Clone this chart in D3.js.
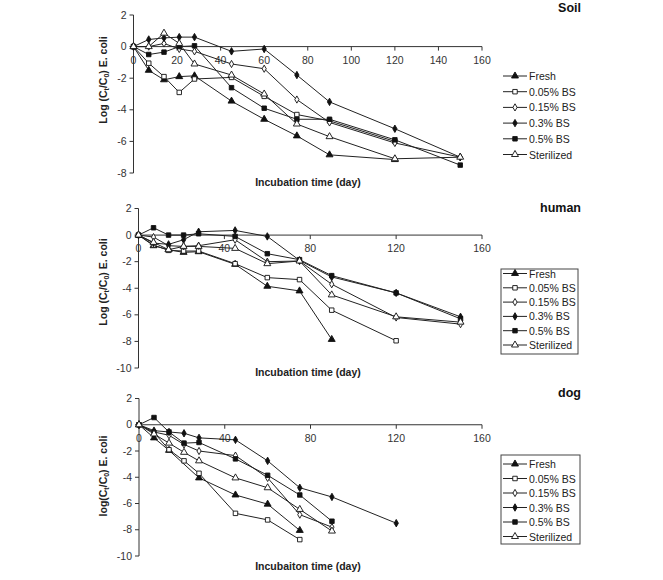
<!DOCTYPE html>
<html>
<head>
<meta charset="utf-8">
<script src="https://cdn.jsdelivr.net/npm/d3@7"></script>
<style>
  body { margin: 0; background: #fff; }
  svg { font-family: "Liberation Sans", Arial, sans-serif; }
  .tick-label { font-size: 10.5px; fill: #333; }
  .axis-title { font-size: 10.5px; font-weight: bold; fill: #222; }
  .panel-title { font-size: 12.5px; font-weight: bold; fill: #111; }
  .legend-text { font-size: 10.5px; fill: #222; }
</style>
</head>
<body>
<svg id="chart"></svg>
<script>
var WIDTH = 663;
var HEIGHT = 580;

var series = ["Fresh", "0.05% BS", "0.15% BS", "0.3% BS", "0.5% BS", "Sterilized"];
var days = [0, 7, 14, 21, 28, 45, 60, 75, 90, 120, 150];

// soil
var soilFresh = [0, -1.5, -2.1, -1.9, -1.85, -3.45, -4.6, -5.65, -6.85, -7.15, null];
var soil005   = [0, -1.05, -1.9, -2.9, -2.05, -1.95, -3.15, -4.3, -4.7, -6.0, null];
var soil015   = [0, 0, 0.2, -0.15, -0.3, -1.1, -1.4, -3.35, -4.8, -6.1, -7.0];
var soil03    = [0, 0.45, 0.55, 0.6, 0.6, -0.3, -0.15, -1.8, -3.5, -5.2, -7.0];
var soil05    = [0, -0.5, -0.35, 0, 0.05, -2.6, -3.9, -4.6, -4.6, -5.9, -7.5];
var soilSter  = [0, 0, 0.85, 0.2, -1.1, -1.8, -3.0, -4.9, -5.7, -7.1, -7.0];

// human
var humFresh = [0, -0.8, -1.1, -1.3, -1.25, -2.2, -3.85, -4.2, -7.85, null, null];
var hum005   = [0, -0.75, -1.15, -1.2, -1.2, -2.15, -3.2, -3.35, -5.65, -7.95, null];
var hum015   = [0, -0.15, -0.8, -0.85, -0.8, -0.35, -2.0, -1.95, -3.7, -6.2, -6.7];
var hum03    = [0, -0.6, -0.7, -0.35, 0.25, 0.35, -0.1, -1.9, -3.15, -4.35, -6.15];
var hum05    = [0, 0.55, 0, 0, 0.1, -0.1, -1.4, -1.85, -3.05, -4.35, -6.3];
var humSter  = [0, -0.55, -1.1, -0.85, -0.85, -1.0, -2.15, -1.95, -4.5, -6.15, -6.55];

// dog
var dogFresh = [0, -1.0, -1.95, null, -4.05, -5.35, -6.05, -8.05, null, null, null];
var dog005   = [0, -0.6, -1.9, -2.75, -3.7, -6.75, -7.25, -8.75, null, null, null];
var dog015   = [0, -0.55, -0.8, -1.5, -2.0, -2.35, -4.05, -6.85, -7.8, null, null];
var dog03    = [0, -0.45, -0.55, -0.65, -1.0, -1.15, -2.75, -4.8, -5.5, -7.5, null];
var dog05    = [0, 0.55, -0.55, -1.4, -1.35, -2.6, -3.85, -5.35, -7.35, null, null];
var dogSter  = [0, -0.7, -1.4, -2.1, -2.75, -4.05, -4.8, -6.45, -8.1, null, null];

var soilX = [0, 20, 40, 60, 80, 100, 120, 140, 160];
var otherX = [0, 40, 80, 120, 160];
var soilY = [2, 0, -2, -4, -6, -8];
var otherY = [2, 0, -2, -4, -6, -8, -10];

var svg = d3.select("#chart").attr("width", WIDTH).attr("height", HEIGHT);

// marker per series: symbol + filled?
var markers = [
  { type: d3.symbolTriangle, fill: true,  size: 21 },
  { type: d3.symbolSquare,   fill: false, size: 20 },
  { type: d3.symbolDiamond,  fill: false, size: 15 },
  { type: d3.symbolDiamond,  fill: true,  size: 16 },
  { type: d3.symbolSquare,   fill: true,  size: 20 },
  { type: d3.symbolTriangle, fill: false, size: 21 }
];

var panels = [
  { title: "Soil", data: [soilFresh, soil005, soil015, soil03, soil05, soilSter],
    xr: [133.5, 482], yr: [173, 15], ydom: [-8, 2], xticks: soilX, yticks: soilY,
    ylab: ["Log (C", "t", "/C", "0", ") E. coli"], xlab: "Incubation time (day)",
    titleY: 11.5, xlabY: 186, ylabY: 80, legY: 76, legStep: 15.7, legBox: false },
  { title: "human", data: [humFresh, hum005, hum015, hum03, hum05, humSter],
    xr: [138.5, 482], yr: [368, 208.5], ydom: [-10, 2], xticks: otherX, yticks: otherY,
    ylab: ["Log (C", "t", "/C", "0", ") E. coli"], xlab: "Incubation time (day)",
    titleY: 212, xlabY: 376, ylabY: 282, legY: 273.5, legStep: 14.3, legBox: [501, 269, 77, 85] },
  { title: "dog", data: [dogFresh, dog005, dog015, dog03, dog05, dogSter],
    xr: [139, 482], yr: [556, 398.5], ydom: [-10, 2], xticks: otherX, yticks: otherY,
    ylab: ["log(C", "t", "/C", "0", ") E. coli"], xlab: "Incubaiton time (day)",
    titleY: 397, xlabY: 570, ylabY: 476, legY: 464, legStep: 14.5, legBox: [501, 455, 79, 89] }
];

panels.forEach(function(p) {
  var x = d3.scaleLinear().domain([0, 160]).range(p.xr);
  var y = d3.scaleLinear().domain(p.ydom).range(p.yr);
  var g = svg.append("g");

  // y axis
  g.append("line")
    .attr("x1", p.xr[0]).attr("x2", p.xr[0])
    .attr("y1", y(p.ydom[1])).attr("y2", y(p.ydom[0]))
    .attr("stroke", "#333").attr("stroke-width", 1);
  p.yticks.forEach(function(t) {
    g.append("line")
      .attr("x1", p.xr[0] - 4).attr("x2", p.xr[0])
      .attr("y1", y(t)).attr("y2", y(t))
      .attr("stroke", "#333");
    g.append("text")
      .attr("class", "tick-label")
      .attr("x", p.xr[0] - 7).attr("y", y(t) + 3.5)
      .attr("text-anchor", "end")
      .text(t);
  });

  // x axis at y = 0
  g.append("line")
    .attr("x1", p.xr[0]).attr("x2", p.xr[1])
    .attr("y1", y(0)).attr("y2", y(0))
    .attr("stroke", "#333").attr("stroke-width", 1);
  p.xticks.forEach(function(t) {
    g.append("line")
      .attr("x1", x(t)).attr("x2", x(t))
      .attr("y1", y(0)).attr("y2", y(0) + 4)
      .attr("stroke", "#333");
    g.append("text")
      .attr("class", "tick-label")
      .attr("x", x(t)).attr("y", y(0) + 17)
      .attr("text-anchor", "middle")
      .text(t);
  });

  // series lines and markers
  var line = d3.line()
    .x(function(d) { return x(d[0]); })
    .y(function(d) { return y(d[1]); });

  p.data.forEach(function(vals) {
    var pts = days.map(function(d, j) { return [d, vals[j]]; })
                  .filter(function(d) { return d[1] != null; });
    g.append("path")
      .datum(pts)
      .attr("d", line)
      .attr("fill", "none")
      .attr("stroke", "#222")
      .attr("stroke-width", 1);
  });
  p.data.forEach(function(vals, i) {
    var m = markers[i];
    var pts = days.map(function(d, j) { return [d, vals[j]]; })
                  .filter(function(d) { return d[1] != null; });
    g.selectAll(null)
      .data(pts)
      .enter()
      .append("path")
      .attr("d", d3.symbol().type(m.type).size(m.size))
      .attr("transform", function(d) { return "translate(" + x(d[0]) + "," + y(d[1]) + ")"; })
      .attr("fill", m.fill ? "#111" : "#fff")
      .attr("stroke", "#111")
      .attr("stroke-width", 0.9);
  });

  // titles
  g.append("text")
    .attr("class", "panel-title")
    .attr("x", 581).attr("y", p.titleY)
    .attr("text-anchor", "end")
    .text(p.title);

  g.append("text")
    .attr("class", "axis-title")
    .attr("x", 308).attr("y", p.xlabY)
    .attr("text-anchor", "middle")
    .text(p.xlab);

  var yl = g.append("text")
    .attr("class", "axis-title")
    .attr("transform", "translate(107," + p.ylabY + ") rotate(-90)")
    .attr("text-anchor", "middle");
  p.ylab.forEach(function(s, k) {
    var ts = yl.append("tspan").text(s);
    if (k % 2 == 1) ts.attr("font-size", "7px").attr("dy", 2);
    else if (k > 0) ts.attr("dy", -2);
  });

  // legend
  if (p.legBox) {
    g.append("rect")
      .attr("x", p.legBox[0]).attr("y", p.legBox[1])
      .attr("width", p.legBox[2]).attr("height", p.legBox[3])
      .attr("fill", "none").attr("stroke", "#444").attr("stroke-width", 1);
  }
  series.forEach(function(name, i) {
    var ly = p.legY + i * p.legStep;
    var m = markers[i];
    g.append("line")
      .attr("x1", 503).attr("x2", 527)
      .attr("y1", ly).attr("y2", ly)
      .attr("stroke", "#222");
    g.append("path")
      .attr("d", d3.symbol().type(m.type).size(m.size))
      .attr("transform", "translate(515," + ly + ")")
      .attr("fill", m.fill ? "#111" : "#fff")
      .attr("stroke", "#111")
      .attr("stroke-width", 0.9);
    g.append("text")
      .attr("class", "legend-text")
      .attr("x", 529).attr("y", ly + 4)
      .text(name);
  });
});
</script>
</body>
</html>
